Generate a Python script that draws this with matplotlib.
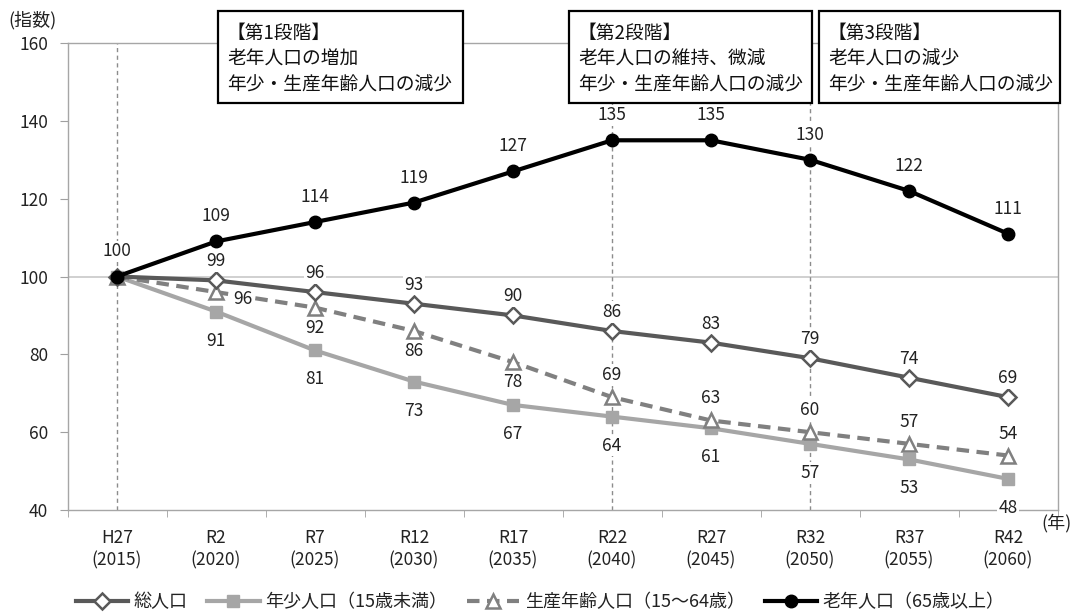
import matplotlib
matplotlib.use("Agg")
import matplotlib.pyplot as plt
import numpy as np

plt.rcParams['font.family'] = ['Noto Sans CJK JP', 'DejaVu Sans']

categories = ["H27\n(2015)", "R2\n(2020)", "R7\n(2025)", "R12\n(2030)", "R17\n(2035)",
              "R22\n(2040)", "R27\n(2045)", "R32\n(2050)", "R37\n(2055)", "R42\n(2060)"]
total = [100, 99, 96, 93, 90, 86, 83, 79, 74, 69]
young = [100, 91, 81, 73, 67, 64, 61, 57, 53, 48]
working = [100, 96, 92, 86, 78, 69, 63, 60, 57, 54]
elderly = [100, 109, 114, 119, 127, 135, 135, 130, 122, 111]
names = ["総人口", "年少人口（15歳未満）", "生産年齢人口（15～64歳）", "老年人口（65歳以上）"]
stage_texts = [["【第1段階】", "老年人口の増加", "年少・生産年齢人口の減少"],
               ["【第2段階】", "老年人口の維持、微減", "年少・生産年齢人口の減少"],
               ["【第3段階】", "老年人口の減少", "年少・生産年齢人口の減少"]]
stage_lines = [0, 5, 7]
yticks = [40, 60, 80, 100, 120, 140, 160]

W, H = 1075, 614
fig = plt.figure(figsize=(W/100, H/100), dpi=100)
ax = fig.add_axes([67.5/W, 1-510/H, 990/W, 467/H])
x = np.arange(len(categories))

ax.set_xlim(-0.5, 9.5)
ax.set_ylim(40, 160)
ax.set_yticks(yticks)
ax.set_xticks(x)
ax.set_xticklabels(categories, fontsize=12.5, color='#222222', linespacing=1.3)
ax.set_xticks(np.arange(-0.5, 10, 1), minor=True)
ax.tick_params(axis='x', which='major', length=0, pad=14)
ax.tick_params(axis='x', which='minor', length=5, color='#a0a0a0', direction='out')
ax.tick_params(axis='y', length=6, color='#a0a0a0', labelsize=12.5, labelcolor='#222222', pad=8)
for s in ax.spines.values():
    s.set_color('#a6a6a6')
    s.set_linewidth(1.0)
ax.axhline(100, color='#c8c8c8', lw=1.2, zorder=1)

for sx in stage_lines:
    ax.axvline(sx, color='#8c8c8c', lw=1.0, ls=(0, (3, 2.5)), zorder=1)

l1, = ax.plot(x, total, color='#595959', lw=3, marker='D', ms=8, mfc='white', mec='#595959', mew=1.8, zorder=4)
l2, = ax.plot(x, young, color='#a6a6a6', lw=3, marker='s', ms=8.5, mfc='#a6a6a6', mec='#a6a6a6', zorder=3)
l3, = ax.plot(x, working, color='#808080', lw=3, ls=(0, (3, 1.8)), marker='^', ms=10, mfc='white', mec='#808080', mew=1.8, zorder=3.5)
l4, = ax.plot(x, elderly, color='black', lw=3, marker='o', ms=9, mfc='black', mec='black', zorder=5)

lab_kw = dict(fontsize=12.5, color='#222222', ha='center', va='center', zorder=6,
              bbox=dict(boxstyle='square,pad=0.1', fc='white', ec='none'))

def label(xi, yi, txt, dy_px, dx_px=0):
    ax.annotate(txt, (xi, yi), xytext=(dx_px * 0.72, dy_px * 0.72), textcoords='offset points', **lab_kw)

for i, v in enumerate(elderly):
    label(i, v, str(v), 25)
for i, v in enumerate(total):
    if i == 0:
        continue
    label(i, v, str(v), 19)
for i, v in enumerate(young):
    if i == 0:
        continue
    label(i, v, str(v), -29)
for i, v in enumerate(working):
    if i == 0:
        continue
    if i == 1:
        label(i, v, str(v), -7, 27)
    elif i <= 4:
        label(i, v, str(v), -20)
    else:
        label(i, v, str(v), 22)

# stage boxes (figure pixel coords)
boxes = [(218, 463), (569, 812), (819, 1060)]
line_y = [33, 59, 85]
for (x0, x1), lines in zip(boxes, stage_texts):
    fig.patches.append(plt.Rectangle((x0/W, 1-103/H), (x1-x0)/W, 92/H,
                                     transform=fig.transFigure, fc='white', ec='black', lw=1.6, zorder=10))
    for ly, t in zip(line_y, lines):
        fig.text((x0+9)/W, 1-ly/H, t, ha='left', va='center', fontsize=13.5, color='#111111', zorder=11)

fig.text(8/W, 1-20/H, "(指数)", fontsize=13, color='#222222', va='center', ha='left')
fig.text(1072/W, 1-523/H, "(年)", fontsize=13, color='#222222', va='center', ha='right')

leg = fig.legend([l1, l2, l3, l4], names, loc='center', bbox_to_anchor=(540/W, 1-602/H), ncol=4,
                 frameon=False, fontsize=13, handlelength=2.9, columnspacing=1.1, handletextpad=0.3)
for t in leg.get_texts():
    t.set_color('#222222')

fig.savefig("out.png", dpi=100)
